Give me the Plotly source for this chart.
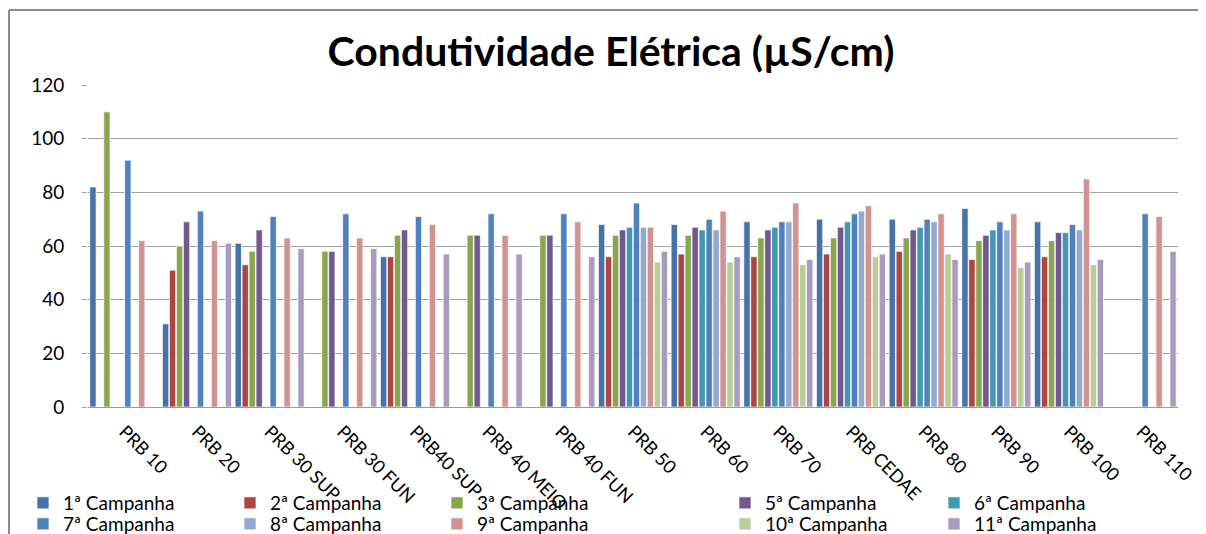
import plotly.graph_objects as go

categories = ["PRB 10", "PRB 20", "PRB 30 SUP", "PRB 30 FUN", "PRB40 SUP", "PRB 40 MEIO",
              "PRB 40 FUN", "PRB 50", "PRB 60", "PRB 70", "PRB CEDAE", "PRB 80", "PRB 90",
              "PRB 100", "PRB 110"]

c1 = [82, 31, 61, None, 56, None, None, 68, 68, 69, 70, 70, 74, 69, None]
c2 = [None, 51, 53, None, 56, None, None, 56, 57, 56, 57, 58, 55, 56, None]
c3 = [110, 60, 58, 58, 64, 64, 64, 64, 64, 63, 63, 63, 62, 62, None]
c5 = [None, 69, 66, 58, 66, 64, 64, 66, 67, 66, 67, 66, 64, 65, None]
c6 = [None, None, None, None, None, None, None, 67, 66, 67, 69, 67, 66, 65, None]
c7 = [92, 73, 71, 72, 71, 72, 72, 76, 70, 69, 72, 70, 69, 68, 72]
c8 = [None, None, None, None, None, None, None, 67, 66, 69, 73, 69, 66, 66, None]
c9 = [62, 62, 63, 63, 68, 64, 69, 67, 73, 76, 75, 72, 72, 85, 71]
c10 = [None, None, None, None, None, None, None, 54, 54, 53, 56, 57, 52, 53, None]
c11 = [None, 61, 59, 59, 57, 57, 56, 58, 56, 55, 57, 55, 54, 55, 58]

series_names = ["1ª Campanha", "2ª Campanha", "3ª Campanha", "5ª Campanha", "6ª Campanha",
                "7ª Campanha", "8ª Campanha", "9ª Campanha", "10ª Campanha", "11ª Campanha"]
series_values = [c1, c2, c3, c5, c6, c7, c8, c9, c10, c11]
colors = ["#4572A7", "#AA4643", "#89A54E", "#71588F", "#4198AF",
          "#4F81BD", "#93A9CF", "#D19392", "#B9CD96", "#A99BBD"]
# legend groups: columns 1-3 row1/row2, columns 4-5 row1/row2
legend_ids = ["legend", "legend", "legend", "legend3", "legend3",
              "legend2", "legend2", "legend2", "legend4", "legend4"]

FONT = "Lato"

fig = go.Figure()
for name, vals, col, lg in zip(series_names, series_values, colors, legend_ids):
    fig.add_trace(go.Bar(
        x=categories, y=vals, name=name,
        marker=dict(color=col, line=dict(color="rgba(255,255,255,0.85)", width=0.8)),
        legend=lg,
    ))

# page has an 8px body margin: work in page pixels, convert to figure pixels
OFF = 8
W, H = 1206 - OFF, 534 - OFF
PL, PR, PT, PB = 88 - OFF, 1178 - OFF, 85 - OFF, 407 - OFF
PW, PH = PR - PL, PB - PT

def px_x(x):
    return (x - OFF - PL) / PW

def px_y(y):
    return (PB - (y - OFF)) / PH

leg_left = dict(orientation="h", font=dict(family=FONT, size=19, color="#000000"),
                entrywidth=162, entrywidthmode="pixels", yanchor="middle", xanchor="left",
                bgcolor="rgba(0,0,0,0)", traceorder="normal")
leg_right = dict(leg_left, entrywidth=164)

fig.update_layout(
    width=W, height=H,
    margin=dict(l=PL, r=W - PR, t=PT, b=H - PB, autoexpand=False),
    paper_bgcolor="white", plot_bgcolor="white",
    font=dict(family=FONT, color="#000000"),
    title=dict(text="<b>Condutividade Elétrica (µS/cm)</b>", x=(611 - OFF) / W, xanchor="center",
               y=1 - (52 - OFF) / H, yanchor="middle", yref="container", xref="container",
               font=dict(family=FONT, size=41, color="#000000")),
    barmode="group", bargap=0.04, bargroupgap=0.1,
    showlegend=True,
    legend=dict(x=px_x(23), y=px_y(503), **leg_left),
    legend2=dict(x=px_x(23), y=px_y(524), **leg_left),
    legend3=dict(x=px_x(725), y=px_y(503), **leg_right),
    legend4=dict(x=px_x(725), y=px_y(524), **leg_right),
    xaxis=dict(type="category", tickangle=45, tickfont=dict(family=FONT, size=18, color="#000000"),
               showline=True, linecolor="#9a9a9a", linewidth=1, ticks="", showgrid=False,
               automargin=False, ticklabelstandoff=6),
    yaxis=dict(range=[0, 120], dtick=20, showgrid=True, gridcolor="#a0a0a0", gridwidth=1,
               ticks="outside", ticklen=5, tickcolor="#a0a0a0", zeroline=False,
               tickfont=dict(family=FONT, size=19, color="#000000"), ticklabelstandoff=14,
               automargin=False),
    shapes=[
        dict(type="line", xref="paper", yref="paper", x0=px_x(9), x1=px_x(9),
             y0=px_y(10), y1=px_y(545), line=dict(color="#8c8c8c", width=2)),
        dict(type="line", xref="paper", yref="paper", x0=px_x(9), x1=px_x(1215),
             y0=px_y(10), y1=px_y(10), line=dict(color="#8c8c8c", width=2)),
    ],
)

fig.write_html("out.html")
